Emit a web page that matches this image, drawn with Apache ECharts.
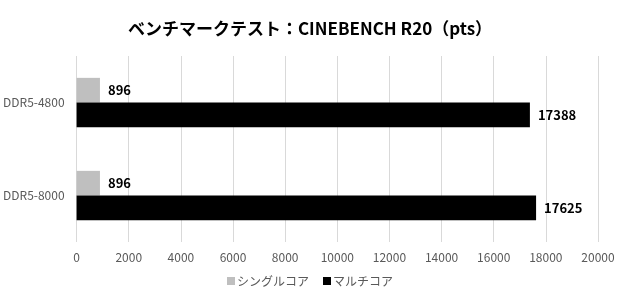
<!DOCTYPE html>
<html><head><meta charset="utf-8">
<script src="https://cdn.jsdelivr.net/npm/echarts@6/dist/echarts.min.js"></script>
<style>html,body{margin:0;padding:0;background:#fff}#c{width:620px;height:300px}</style>
</head><body><div id="c"></div>
<script>
const titleText = 'ベンチマークテスト：CINEBENCH R20（pts）';
const categories = ['DDR5-4800', 'DDR5-8000'];
const seriesNames = ['シングルコア', 'マルチコア'];
const singleCore = [896, 896];
const multiCore = [17388, 17625];
const xTicks = {min: 0, max: 20000, interval: 2000};

const chart = echarts.init(document.getElementById('c'), null, {renderer: 'canvas'});
const font = '"Noto Sans CJK JP", "Noto Sans", sans-serif';
const labelStyle = {show: true, position: 'right', distance: 8, color: '#000', fontWeight: 'bold', fontSize: 13, fontFamily: font};
chart.setOption({
  animation: false,
  title: {text: titleText, left: 'center', top: 15, textStyle: {fontSize: 17, fontWeight: 'bold', color: '#000', fontFamily: font}},
  grid: {left: 74, right: 22, top: 56, bottom: 58, containLabel: false},
  legend: {bottom: 8, left: 'center', itemWidth: 8, itemHeight: 8, itemGap: 14, icon: 'rect',
    textStyle: {color: '#595959', fontSize: 12, fontFamily: font, padding: [0,0,0,-3]},
    data: seriesNames},
  xAxis: {type: 'value', min: xTicks.min, max: xTicks.max, interval: xTicks.interval,
    axisLine: {show: false}, axisTick: {show: false},
    splitLine: {show: true, lineStyle: {color: '#d9d9d9', width: 1}},
    axisLabel: {color: '#595959', fontSize: 12, margin: 9, fontFamily: font, formatter: v => String(v)}},
  yAxis: {type: 'category', data: categories, inverse: true,
    axisLine: {show: false}, axisTick: {show: false},
    axisLabel: {color: '#595959', fontSize: 12, margin: 12, fontFamily: font}},
  series: [
    {name: seriesNames[0], type: 'bar', data: singleCore, itemStyle: {color: '#bfbfbf'}, barGap: '0%', barCategoryGap: '47%', label: labelStyle},
    {name: seriesNames[1], type: 'bar', data: multiCore, itemStyle: {color: '#000000'}, barGap: '0%', barCategoryGap: '47%', label: labelStyle}
  ]
});
</script></body></html>
